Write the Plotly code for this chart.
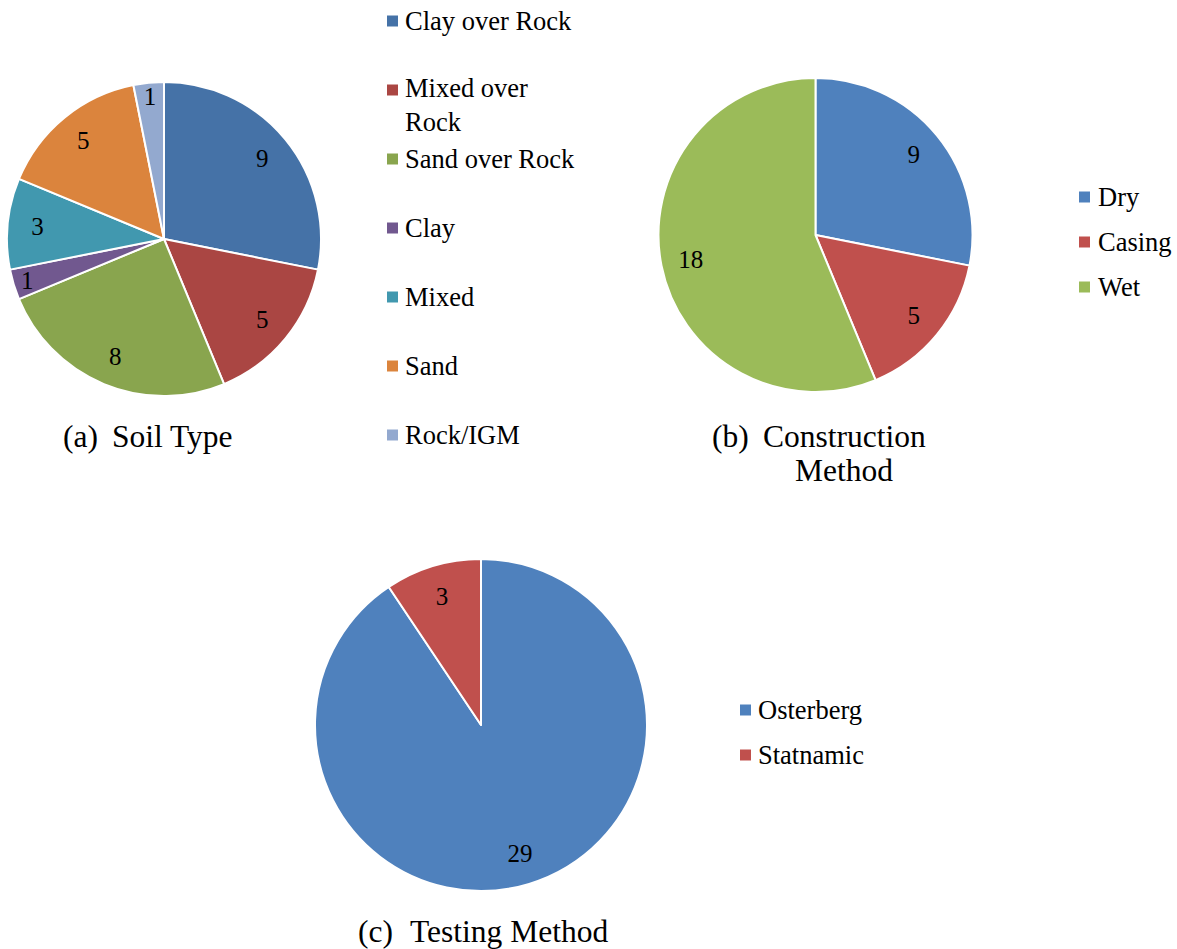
import plotly.graph_objects as go

W, H = 1177, 949
FONT = "Liberation Serif"

# ---- data ----
soil_labels = ["Clay over Rock", "Mixed over Rock", "Sand over Rock", "Clay", "Mixed", "Sand", "Rock/IGM"]
soil_values = [9, 5, 8, 1, 3, 5, 1]
soil_colors = ["#4572A7", "#AA4643", "#89A54E", "#71588F", "#4198AF", "#DB843D", "#93A9CF"]

cons_labels = ["Dry", "Casing", "Wet"]
cons_values = [9, 5, 18]
cons_colors = ["#4F81BD", "#C0504D", "#9BBB59"]

test_labels = ["Osterberg", "Statnamic"]
test_values = [29, 3]
test_colors = ["#4F81BD", "#C0504D"]


def px_x(x):
    return x / W


def px_y(y):
    return 1 - y / H


def domain(cx, cy, r):
    return dict(x=[px_x(cx - r), px_x(cx + r)], y=[px_y(cy + r), px_y(cy - r)])


fig = go.Figure()

for labels, values, colors, (cx, cy, r) in [
    (soil_labels, soil_values, soil_colors, (164, 239, 157)),
    (cons_labels, cons_values, cons_colors, (815.5, 235, 157)),
    (test_labels, test_values, test_colors, (481, 725, 166)),
]:
    # filled slices
    fig.add_trace(go.Pie(
        labels=labels, values=values, sort=False, direction="clockwise", rotation=0,
        marker=dict(colors=colors, line=dict(color="white", width=2)),
        textinfo="none", domain=domain(cx, cy, r), showlegend=False,
        hoverinfo="label+value",
    ))
    # transparent ring carrying the value labels (places them toward the rim)
    fig.add_trace(go.Pie(
        labels=labels, values=values, sort=False, direction="clockwise", rotation=0,
        hole=0.62,
        marker=dict(colors=["rgba(0,0,0,0)"] * len(values), line=dict(width=0)),
        textinfo="value", textposition="inside", insidetextorientation="horizontal",
        textfont=dict(family=FONT, size=25, color="black"),
        domain=domain(cx, cy, r), showlegend=False, hoverinfo="skip",
    ))


def add_legend(labels, colors, sq_x, text_x, y0, step, wrap=None):
    for i, (lab, col) in enumerate(zip(labels, colors)):
        y = y0 + i * step
        fig.add_shape(type="rect", xref="paper", yref="paper",
                      x0=px_x(sq_x), x1=px_x(sq_x + 11),
                      y0=px_y(y + 5.5), y1=px_y(y - 5.5),
                      fillcolor=col, line=dict(width=0))
        txt = wrap.get(lab, lab) if wrap else lab
        nlines = txt.count("<br>") + 1
        fig.add_annotation(xref="paper", yref="paper", x=px_x(text_x),
                           y=px_y(y + (nlines - 1) * 15), xanchor="left", yanchor="middle",
                           text=txt, showarrow=False, align="left",
                           font=dict(family=FONT, size=26.5, color="black"))


add_legend(soil_labels, soil_colors, 387, 403, 21, 69, wrap={"Mixed over Rock": "Mixed over<br>Rock"})
add_legend(cons_labels, cons_colors, 1079, 1096, 197, 45)
add_legend(test_labels, test_colors, 740, 756, 710, 45)


def title(x, y, text, anchor="left"):
    fig.add_annotation(xref="paper", yref="paper", x=px_x(x), y=px_y(y),
                       xanchor=anchor, yanchor="middle", text=text, showarrow=False,
                       font=dict(family=FONT, size=31.5, color="black"))


title(61, 437, "(a)")
title(110, 437, "Soil Type")
title(710, 437, "(b)")
title(844, 437, "Construction", "center")
title(844, 471, "Method", "center")
title(356, 931, "(c)")
title(408, 931, "Testing Method")

fig.update_layout(
    width=W, height=H, margin=dict(l=0, r=0, t=0, b=0),
    font=dict(family=FONT, color="black"),
    paper_bgcolor="white", plot_bgcolor="white",
    uniformtext=dict(minsize=25, mode="show"),
    showlegend=False,
)

fig.write_html("out.html", config={"displayModeBar": False},
               post_script="document.body.style.margin='0';")
